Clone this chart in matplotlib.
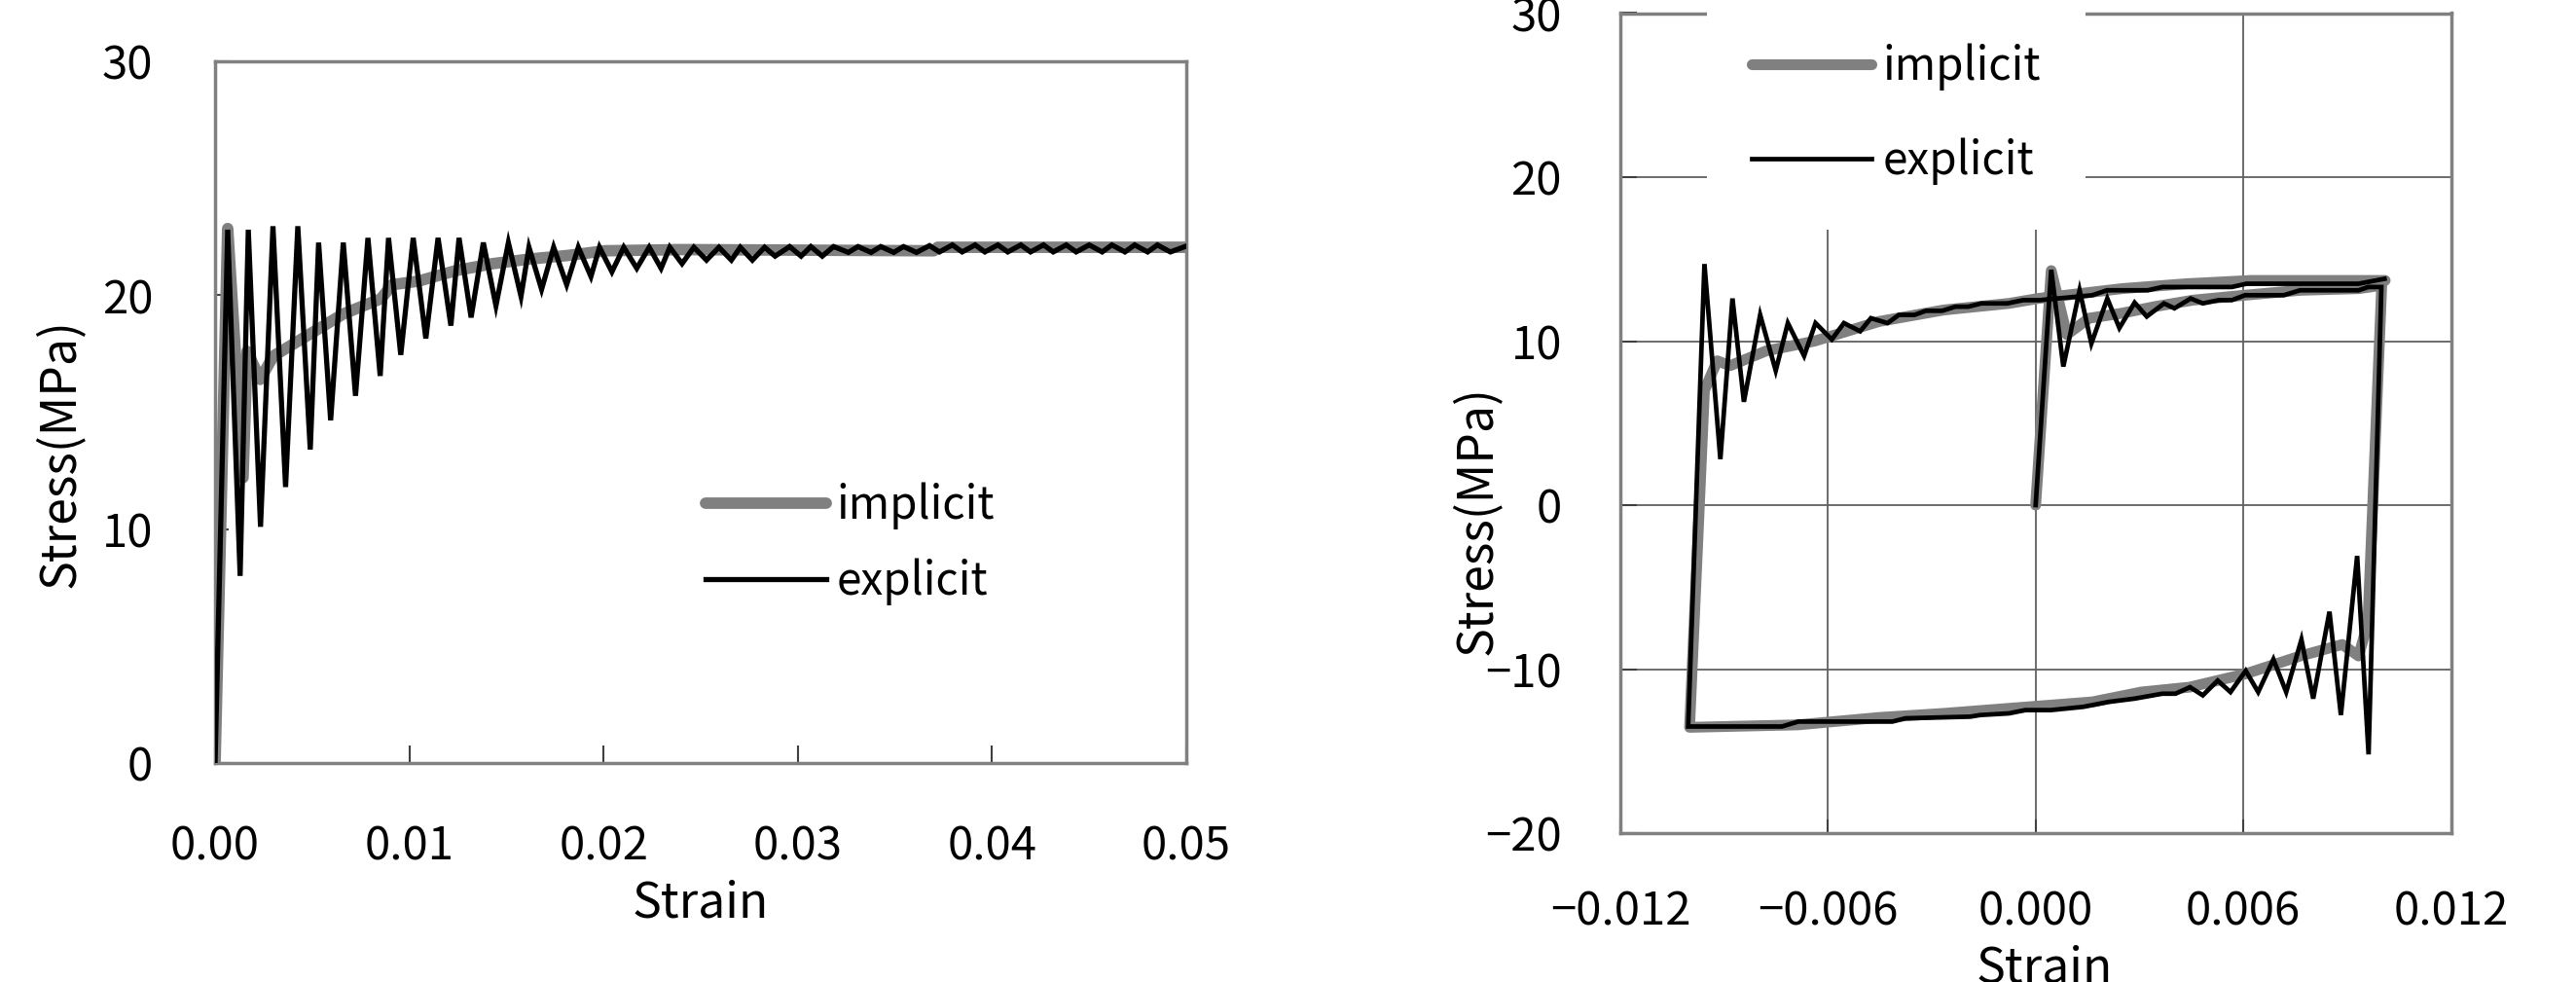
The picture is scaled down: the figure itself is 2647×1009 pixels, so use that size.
import matplotlib
matplotlib.use("Agg")
import matplotlib.pyplot as plt
from matplotlib.ticker import FuncFormatter, MultipleLocator

plt.rcParams['font.family'] = ['Noto Sans CJK JP', 'DejaVu Sans']

# monotonic loading: strain / stress(MPa)
mono_imp_strain = [0.0, 0.00065, 0.00144, 0.00165, 0.00232, 0.0030, 0.0047, 0.0066,
                   0.00854, 0.00912, 0.01046, 0.01239, 0.0143, 0.01623, 0.01816,
                   0.02008, 0.0240, 0.0370, 0.0372, 0.0500]
mono_imp_stress = [0.0, 22.85, 12.2, 17.6, 16.4, 17.4, 18.25, 19.2,
                   19.85, 20.45, 20.6, 21.05, 21.35, 21.55, 21.7,
                   21.9, 21.95, 21.9, 22.05, 22.05]

mono_exp_strain = [0.0, 0.00065, 0.00129, 0.00171, 0.00234, 0.00298, 0.00363, 0.00426,
                   0.0049, 0.00533, 0.00595, 0.0066, 0.00723, 0.00787, 0.0085, 0.00893,
                   0.00956, 0.0102, 0.01085, 0.01148, 0.01214, 0.01256, 0.01318, 0.01381,
                   0.01446, 0.0151, 0.01575, 0.01616, 0.01681, 0.01743, 0.0181, 0.0187,
                   0.01935, 0.01979, 0.02043, 0.02104, 0.02171, 0.02235, 0.02296, 0.02341,
                   0.02404, 0.02465, 0.0253, 0.02594, 0.02658, 0.02704, 0.02766, 0.02829,
                   0.02883, 0.02958, 0.03017, 0.03067, 0.03126, 0.03184, 0.0326, 0.0331,
                   0.03377, 0.03427, 0.03494, 0.03544, 0.03611, 0.03678, 0.03729, 0.03796,
                   0.03846, 0.03913, 0.03963, 0.0403, 0.04081, 0.04148, 0.04198, 0.04265,
                   0.04315, 0.04382, 0.04433, 0.045, 0.04567, 0.04617, 0.04684, 0.04734,
                   0.04801, 0.04851, 0.04918, 0.0500]
mono_exp_stress = [0.0, 22.8, 8.0, 22.8, 10.1, 22.95, 11.8, 22.95,
                   13.4, 22.25, 14.65, 22.25, 15.7, 22.45, 16.55, 22.45,
                   17.45, 22.45, 18.15, 22.45, 18.7, 22.45, 19.05, 22.25,
                   19.55, 22.25, 19.95, 22.05, 20.25, 22.05, 20.45, 22.05,
                   20.8, 22.05, 21.0, 22.05, 21.15, 22.05, 21.15, 22.05,
                   21.35, 22.05, 21.5, 22.05, 21.5, 22.05, 21.5, 22.05,
                   21.67, 22.08, 21.67, 22.08, 21.67, 22.08, 21.83, 22.08,
                   21.83, 22.08, 21.83, 22.08, 21.83, 22.12, 21.85, 22.15,
                   21.85, 22.15, 21.85, 22.15, 21.85, 22.15, 21.85, 22.15,
                   21.85, 22.15, 21.85, 22.15, 21.85, 22.15, 21.85, 22.15,
                   21.85, 22.15, 21.85, 22.1]

# cyclic loading
cyc_imp_strain = [0.0, 0.00045, 0.0009, 0.00155, 0.00249, 0.00343, 0.00455, 0.00605,
                  0.00765, 0.00933, 0.0100, 0.0096, 0.00933, 0.00886, 0.00765, 0.00605,
                  0.00445, 0.00305, 0.00164, -0.00265, -0.00452, -0.00687, -0.0100,
                  -0.00957, -0.0092, -0.00883, -0.00779, -0.00639, -0.00592, -0.00452,
                  -0.00265, -0.00077, 0.00007, 0.00249, 0.00436, 0.00623, 0.0101]
cyc_imp_stress = [0.0, 14.3, 10.4, 11.4, 11.7, 12.1, 12.5, 12.8,
                  13.1, 13.2, 13.4, -7.2, -9.2, -8.5, -9.2, -10.3,
                  -11.1, -11.4, -12.0, -12.7, -12.95, -13.4, -13.55,
                  7.0, 8.8, 8.5, 9.4, 10.0, 10.3, 11.2,
                  11.9, 12.3, 12.6, 13.2, 13.5, 13.7, 13.7]

cyc_exp_strain = [0.0, 0.00045, 0.0008, 0.00127, 0.00161, 0.00207, 0.00242, 0.00286,
                  0.00321, 0.00371, 0.00401, 0.00448, 0.00483, 0.00529, 0.00567, 0.00605,
                  0.00717, 0.00764, 0.00933, 0.00961, 0.00999,
                  0.00962, 0.00929, 0.00882, 0.00849, 0.00802, 0.00768, 0.00724, 0.00687,
                  0.00643, 0.00607, 0.00563, 0.00526, 0.00483, 0.00446, 0.00404, 0.00366,
                  0.00286, 0.00211, 0.00138, 0.00044, -0.0003, -0.00077, -0.0016, -0.00189,
                  -0.00376, -0.00414, -0.00686, -0.00733, -0.01004,
                  -0.00957, -0.00911, -0.00876, -0.00843, -0.00796, -0.00751, -0.00716,
                  -0.00669, -0.00636, -0.00589, -0.00554, -0.00507, -0.00476, -0.00428,
                  -0.00395, -0.0035, -0.00317, -0.0027, -0.00232, -0.00195, -0.00157,
                  -0.00082, -0.00036, 0.00013, 0.00164, 0.00206, 0.00324, 0.00366,
                  0.00567, 0.00609, 0.00933, 0.01008]
cyc_exp_stress = [0.0, 14.35, 8.45, 13.1, 9.85, 12.6, 10.8, 12.35,
                  11.5, 12.3, 12.0, 12.6, 12.3, 12.5, 12.5, 12.8,
                  12.8, 13.1, 13.1, 13.3, 13.3,
                  -15.2, -3.1, -12.8, -6.5, -11.8, -8.2, -11.4, -9.4,
                  -11.4, -10.1, -11.4, -10.7, -11.6, -11.1, -11.5, -11.5,
                  -11.8, -12.0, -12.3, -12.5, -12.5, -12.7, -12.8, -12.9,
                  -13.0, -13.2, -13.2, -13.5, -13.5,
                  14.7, 2.8, 12.6, 6.3, 11.6, 8.2, 11.1,
                  9.1, 11.1, 10.1, 11.1, 10.6, 11.4, 11.1,
                  11.6, 11.6, 11.85, 11.85, 12.1, 12.1, 12.3,
                  12.3, 12.5, 12.5, 12.8, 13.1, 13.1, 13.3,
                  13.3, 13.5, 13.5, 13.8]

GRAY = '#808080'
SPINE = '#808080'
TICK_FS = 34
LABEL_FS = 36
LEG_FS = 33


def fmt(decimals):
    def f(x, pos):
        s = f"{round(x, decimals) + 0.0:.{decimals}f}"
        return s.replace('-', '\u2212')
    return FuncFormatter(f)


def style_frame(ax):
    for sp in ax.spines.values():
        sp.set_color(SPINE)
        sp.set_linewidth(2.5)


fig = plt.figure(figsize=(26.47, 10.09), dpi=100)

# left: monotonic
ax1 = fig.add_axes([221 / 2647, 225 / 1009, 998 / 2647, 721 / 1009])
ax1.plot(mono_imp_strain, mono_imp_stress, color=GRAY, lw=8.5,
         solid_capstyle='round', solid_joinstyle='round', label='implicit', zorder=3)
ax1.plot(mono_exp_strain, mono_exp_stress, color='black', lw=3.8,
         solid_joinstyle='miter', label='explicit', zorder=4)
ax1.set_xlim(0, 0.05)
ax1.set_ylim(0, 30)
ax1.xaxis.set_major_locator(MultipleLocator(0.01))
ax1.yaxis.set_major_locator(MultipleLocator(10))
ax1.xaxis.set_major_formatter(fmt(2))
ax1.yaxis.set_major_formatter(fmt(0))
ax1.tick_params(axis='x', direction='in', length=13, width=1.5, color='#404040',
                pad=44.6, labelsize=TICK_FS)
ax1.tick_params(axis='y', direction='in', length=10, width=1.5, color='#404040',
                pad=46, labelsize=TICK_FS)
style_frame(ax1)
ax1.set_xlabel('Strain', fontsize=LABEL_FS)
ax1.set_ylabel('Stress(MPa)', fontsize=LABEL_FS)
ax1.xaxis.set_label_coords(0.5, -0.1637)
ax1.yaxis.set_label_coords(-0.134, 0.442)
ax1.legend(loc='center left', bbox_to_anchor=(0.505, 0.3128), frameon=False,
           fontsize=LEG_FS, handlelength=2.7, handletextpad=0.24,
           labelspacing=0.65, borderpad=0, borderaxespad=0)

# right: cyclic
ax2 = fig.add_axes([1665 / 2647, 153 / 1009, 853.5 / 2647, 842.5 / 1009])
ax2.plot(cyc_imp_strain, cyc_imp_stress, color=GRAY, lw=8.0,
         solid_capstyle='round', solid_joinstyle='round', label='implicit', zorder=3)
ax2.plot(cyc_exp_strain, cyc_exp_stress, color='black', lw=3.4,
         solid_joinstyle='miter', label='explicit', zorder=4)
ax2.set_xlim(-0.012, 0.012)
ax2.set_ylim(-20, 30)
ax2.xaxis.set_major_locator(MultipleLocator(0.006))
ax2.yaxis.set_major_locator(MultipleLocator(10))
ax2.xaxis.set_major_formatter(fmt(3))
ax2.yaxis.set_major_formatter(fmt(0))
ax2.grid(True, color='#606060', lw=1.3)
ax2.set_axisbelow(True)
ax2.tick_params(axis='x', direction='in', length=10, width=1.5, color='#404040',
                pad=41, labelsize=TICK_FS)
ax2.tick_params(axis='y', direction='in', length=12, width=1.5, color='#404040',
                pad=43.2, labelsize=TICK_FS)
style_frame(ax2)
ax2.set_xlabel('Strain', fontsize=LABEL_FS)
ax2.set_ylabel('Stress(MPa)', fontsize=LABEL_FS)
ax2.xaxis.set_label_coords(0.511, -0.1353)
ax2.yaxis.set_label_coords(-0.1418, 0.382)
leg2 = ax2.legend(loc='center left', bbox_to_anchor=(0.104, 0.8766), frameon=True,
                  fancybox=False, facecolor='white', edgecolor='none', framealpha=1,
                  fontsize=LEG_FS, handlelength=2.7, handletextpad=0.24,
                  labelspacing=1.05, borderpad=1.0, borderaxespad=0)

fig.savefig('out.png', dpi=100)
